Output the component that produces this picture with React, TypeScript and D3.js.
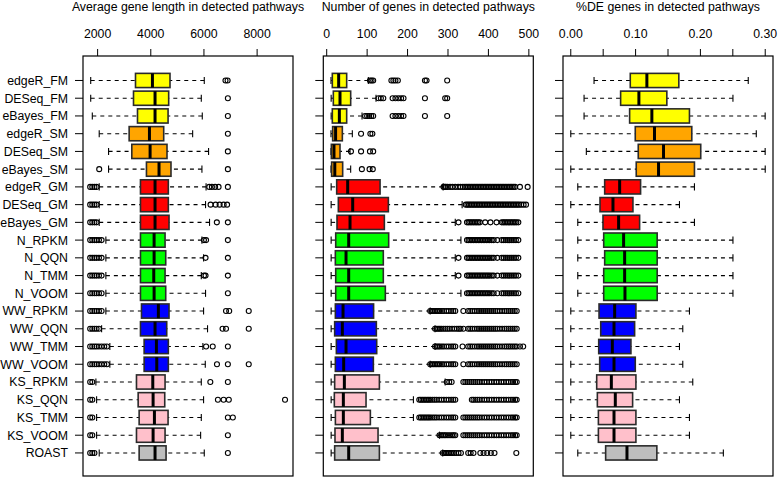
import React from "react";
import * as d3 from "d3";

const categories = [
  "edgeR_FM", "DESeq_FM", "eBayes_FM", "edgeR_SM", "DESeq_SM", "eBayes_SM",
  "edgeR_GM", "DESeq_GM", "eBayes_GM", "N_RPKM", "N_QQN", "N_TMM", "N_VOOM",
  "WW_RPKM", "WW_QQN", "WW_TMM", "WW_VOOM", "KS_RPKM", "KS_QQN", "KS_TMM",
  "KS_VOOM", "ROAST",
];

const boxFills = [
  "#FFFF00", "#FFFF00", "#FFFF00", "#FFA500", "#FFA500", "#FFA500",
  "#FF0000", "#FF0000", "#FF0000", "#00FF00", "#00FF00", "#00FF00", "#00FF00",
  "#0000FF", "#0000FF", "#0000FF", "#0000FF", "#FFC0CB", "#FFC0CB", "#FFC0CB",
  "#FFC0CB", "#BEBEBE",
];

const panelTitles = [
  "Average gene length in detected pathways",
  "Number of genes in detected pathways",
  "%DE genes in detected pathways",
];

// [lower whisker, Q1, median, Q3, upper whisker]
const lengthStats = [
  [1740, 3425, 4062, 4723, 6012],
  [1740, 3350, 4160, 4673, 5900],
  [1800, 3500, 4160, 4650, 5937],
  [2060, 3186, 3950, 4486, 5575],
  [2412, 3286, 3974, 4610, 6174],
  [2412, 3837, 4310, 4760, 5924],
  [2060, 3612, 4160, 4660, 6080],
  [2060, 3612, 4160, 4660, 6060],
  [2060, 3612, 4160, 4686, 6210],
  [2310, 3612, 4125, 4537, 5924],
  [2310, 3612, 4125, 4562, 5987],
  [2310, 3612, 4112, 4537, 5900],
  [2310, 3612, 4125, 4562, 6060],
  [2310, 3650, 4285, 4686, 5986],
  [2150, 3612, 4160, 4600, 6135],
  [2460, 3750, 4212, 4660, 5960],
  [2460, 3750, 4225, 4660, 6050],
  [1935, 3462, 4075, 4537, 5900],
  [1962, 3525, 4087, 4525, 5986],
  [1962, 3562, 4137, 4650, 5900],
  [1962, 3462, 4087, 4537, 5875],
  [2060, 3562, 4160, 4575, 6012],
];

const lengthOutliers = [
  [6810, 6890],
  [6900],
  [6900],
  [6900],
  [6900],
  [2060, 6900],
  [1720, 1800, 1880, 1960, 6200, 6300, 6420, 6550, 6900],
  [1720, 1800, 1880, 1960, 6250, 6440, 6590, 6740, 6870],
  [1720, 1800, 1880, 1960, 6485, 6900],
  [1720, 1800, 1880, 1960, 2050, 2150, 6000, 6080, 6900],
  [1720, 1800, 1880, 1960, 2050, 2150, 6060, 6900],
  [1720, 1800, 1880, 1960, 2050, 2150, 6000, 6060, 6900],
  [1720, 1800, 1880, 1960, 2050, 2150, 6900],
  [1720, 1800, 1880, 1960, 2050, 2150, 6830, 6950, 7685],
  [1720, 1800, 1880, 1960, 2050, 6700, 6830, 7685],
  [1720, 1800, 1880, 1960, 2050, 2150, 2250, 2350, 6080, 6330, 6900],
  [1720, 1800, 1880, 1960, 2050, 2150, 2250, 2350, 6490, 6900, 7685],
  [1720, 1800, 6240, 6900],
  [1720, 1800, 6525, 6740, 6935, 9050],
  [1720, 1800, 6900, 7087],
  [1720, 1800, 6900],
  [1720, 1800, 1880, 6900],
];

const countStats = [
  [10.6, 13.9, 29.6, 49.4, 103],
  [11, 16.4, 32.9, 59.3, 122],
  [11, 13.9, 31.3, 49.4, 87.4],
  [10.6, 14.7, 22, 38.7, 63.4],
  [10.6, 11.5, 18, 32.9, 57.7],
  [10.6, 12.2, 20, 39.5, 59.3],
  [11, 24.7, 51.9, 132, 288],
  [11, 28.8, 64.3, 152.5, 335],
  [11, 25.5, 57.7, 142.6, 318],
  [11, 22.3, 54.4, 153.3, 332],
  [11, 21.4, 47.8, 140, 318],
  [11, 22.3, 54.4, 140, 318],
  [11, 22.3, 54.4, 145, 332],
  [11, 21.4, 40.4, 116, 256],
  [11, 19.7, 38.7, 122.8, 268],
  [11, 23.9, 47.8, 123.7, 268],
  [11, 21.4, 42, 115.4, 256],
  [11, 19.7, 43.7, 130.3, 293],
  [11, 18.9, 41.2, 97.3, 214.5],
  [11, 21.5, 41.2, 108, 214.5],
  [11, 20.5, 38.7, 127, 279],
  [11, 19.7, 54.4, 130.3, 287],
];

const gmEdgeROut = [
  289, 292, 295, 299, 305, 311, 318, 325, 331, 337, 342, 346, 350, 354, 358, 362,
  366, 370, 374, 378, 382, 386, 390, 394, 398, 402, 406, 410, 414, 418, 422, 426,
  430, 434, 438, 442, 446, 450, 454, 458, 462, 466, 478, 497,
];
const gmDESeqOut = [
  344, 348, 352, 356, 360, 364, 368, 372, 376, 380, 384, 388, 392, 396, 400, 404,
  408, 412, 416, 420, 424, 428, 432, 436, 440, 444, 448, 452, 456, 460, 464, 468,
  472, 476, 481, 487, 493,
];
const gmEBayesOut = [
  326, 347, 351, 355, 359, 363, 367, 371, 375, 379, 392, 405, 420, 433, 437, 441,
  445, 449, 453, 457, 461, 465, 469, 474,
];
const nHighOut = [
  347, 351, 355, 359, 363, 367, 371, 375, 379, 383, 387, 391, 395, 399, 403, 408,
  413, 422, 433, 438, 443, 448, 453, 458, 463, 468, 474,
];
const wwLowOut = [256, 260, 264, 268, 272, 276, 280, 285, 290, 296, 302, 308, 313, 318];
const wwQQNLowOut = [268, 272, 276, 280, 284, 289, 294, 299, 304, 310, 316, 322, 327, 331];
const wwTMMLowOut = [268, 272, 276, 280, 285, 290, 296, 302, 308, 313, 318];
const wwHighOut = [
  338, 350, 355, 360, 366, 372, 377, 382, 387, 392, 397, 402, 407, 412, 417, 422,
  428, 434, 440, 445, 450, 455, 460, 465, 470,
];
const wwTMMHighOut = [
  336, 350, 355, 360, 366, 372, 377, 382, 387, 392, 397, 402, 407, 412, 417, 422,
  428, 434, 440, 445, 450, 455, 460, 465, 470, 478, 486,
];
const ksLowOut = [
  229, 233, 237, 241, 245, 249, 253, 257, 262, 267, 272, 278, 284, 290, 296, 302,
  308, 313, 318,
];
const ksHighOut = [
  338, 343, 348, 353, 358, 363, 368, 373, 378, 384, 390, 396, 402, 408, 414, 420,
  426, 432, 438, 444, 450, 456, 461, 466, 470,
];
const ksQQNHighOut = [
  359, 363, 368, 373, 378, 384, 390, 396, 402, 408, 414, 420, 426, 432, 438, 444,
  450, 456, 461, 466, 470,
];
const ksVoomLowOut = [279, 283, 287, 291, 295, 300, 305, 310, 314, 318];
const roastOut = [
  287, 291, 295, 299, 303, 307, 311, 315, 320, 326, 332, 350, 356, 363, 380, 388,
  397, 406, 415, 469,
];

const countOutliers = [
  [107, 111, 115, 160, 165, 170, 176, 243, 247, 298],
  [128, 134, 140, 163, 170, 177, 184, 190, 243, 293, 298],
  [95, 100, 105, 110, 115, 163, 170, 177, 184, 190, 243, 298],
  [85, 108, 113],
  [60, 85, 107, 115],
  [87, 106, 114],
  gmEdgeROut,
  gmDESeqOut,
  gmEBayesOut,
  nHighOut,
  [326, ...nHighOut],
  [326, ...nHighOut],
  nHighOut,
  [...wwLowOut, ...wwHighOut],
  [...wwQQNLowOut, ...wwHighOut],
  [...wwTMMLowOut, ...wwTMMHighOut],
  [...wwLowOut, ...wwHighOut],
  [297, 303, 309, ...ksHighOut],
  [...ksLowOut, ...ksQQNHighOut],
  [...ksLowOut, ...ksHighOut],
  [...ksVoomLowOut, ...ksHighOut],
  roastOut,
];

const deStats = [
  [0.0359, 0.0918, 0.1174, 0.1667, 0.2738],
  [0.0205, 0.0769, 0.1051, 0.1482, 0.2502],
  [0.0205, 0.0908, 0.1251, 0.1831, 0.2999],
  [0.0, 0.0995, 0.1292, 0.1867, 0.2862],
  [0.024, 0.1041, 0.1431, 0.2005, 0.2999],
  [0.0, 0.101, 0.1354, 0.1908, 0.3],
  [0.0108, 0.0523, 0.0754, 0.1077, 0.1908],
  [0.0, 0.0451, 0.0651, 0.0959, 0.1677],
  [0.0108, 0.0497, 0.0738, 0.1062, 0.1908],
  [0.0108, 0.0508, 0.0815, 0.1333, 0.2502],
  [0.0108, 0.0523, 0.0831, 0.1333, 0.2502],
  [0.0108, 0.0508, 0.0831, 0.1333, 0.2502],
  [0.0108, 0.0508, 0.0836, 0.1333, 0.2502],
  [0.0, 0.0436, 0.0677, 0.1005, 0.1831],
  [0.0, 0.0462, 0.0667, 0.0985, 0.1728],
  [0.0, 0.0431, 0.0641, 0.0928, 0.1677],
  [0.0, 0.0446, 0.0667, 0.0995, 0.1728],
  [0.0, 0.04, 0.0626, 0.1005, 0.1882],
  [0.0, 0.041, 0.0687, 0.0954, 0.1677],
  [0.0, 0.0426, 0.0667, 0.1005, 0.1831],
  [0.0, 0.0426, 0.0667, 0.1005, 0.1831],
  [0.0108, 0.0538, 0.0867, 0.1328, 0.2354],
];
const deOutliers: number[][] = categories.map(() => []);

const lengthTicks = [2000, 4000, 6000, 8000];
const countTicks = [0, 100, 200, 300, 400, 500];
const deTicks = [0, 0.05, 0.1, 0.15, 0.2, 0.25, 0.3];
const deTickLabels = ["0.00", "", "0.10", "", "0.20", "", "0.30"];

const lengthLimits = [1450, 9350];
const countLimits = [-8.4, 511];
const deLimits = [-0.012, 0.312];

const FONT = "'Liberation Sans', Arial, Helvetica, sans-serif";
const TOP = 56;
const BOTTOM = 476;
const PW = 210;

type PanelProps = {
  left: number;
  title: string;
  limits: number[];
  ticks: number[];
  tickLabels: string[];
  stats: number[][];
  outliers: number[][];
  showNames: boolean;
};

function Panel({ left, title, limits, ticks, tickLabels, stats, outliers, showNames }: PanelProps) {
  const x = d3.scaleLinear().domain(limits).range([left, left + PW]);
  const y = d3.scaleLinear().domain([-0.38, 23.3]).range([TOP, BOTTOM]);
  const unit = y(1) - y(0);
  const halfBox = 0.4 * unit;
  const halfStaple = 0.2 * unit;
  return (
    <g>
      <text x={left + PW / 2} y={11} textAnchor="middle" fontSize={12.3} fontFamily={FONT} fill="#000">
        {title}
      </text>
      {ticks.map((t, i) => (
        <g key={"t" + i}>
          <line x1={x(t)} x2={x(t)} y1={TOP - 7} y2={TOP} stroke="#000" strokeWidth={1} />
          {tickLabels[i] !== "" && (
            <text x={x(t)} y={38} textAnchor="middle" fontSize={12.3} fontFamily={FONT} fill="#000">
              {tickLabels[i]}
            </text>
          )}
        </g>
      ))}
      {categories.map((c, i) => {
        const yy = y(i + 1);
        return (
          <g key={"y" + i}>
            <line x1={left - 8} x2={left} y1={yy} y2={yy} stroke="#000" strokeWidth={1} />
            {showNames && (
              <text x={left - 15} y={yy} dy="0.36em" textAnchor="end" fontSize={12.3} fontFamily={FONT} fill="#000">
                {c}
              </text>
            )}
          </g>
        );
      })}
      {stats.map((s, i) => {
        const yy = y(i + 1);
        const [lo, q1, med, q3, hi] = s;
        return (
          <g key={"b" + i}>
            <line x1={x(lo)} x2={x(q1)} y1={yy} y2={yy} stroke="#000" strokeWidth={1.1} strokeDasharray="4,4" />
            <line x1={x(hi)} x2={x(q3)} y1={yy} y2={yy} stroke="#000" strokeWidth={1.1} strokeDasharray="4,4" />
            <line x1={x(lo)} x2={x(lo)} y1={yy - halfStaple} y2={yy + halfStaple} stroke="#000" strokeWidth={1.1} />
            <line x1={x(hi)} x2={x(hi)} y1={yy - halfStaple} y2={yy + halfStaple} stroke="#000" strokeWidth={1.1} />
            <rect
              x={x(q1)}
              y={yy - halfBox}
              width={x(q3) - x(q1)}
              height={2 * halfBox}
              fill={boxFills[i]}
              stroke="#2a2a2a"
              strokeWidth={1.6}
            />
            <line x1={x(med)} x2={x(med)} y1={yy - halfBox} y2={yy + halfBox} stroke="#000" strokeWidth={3} />
            {outliers[i].map((v, j) => (
              <circle key={j} cx={x(v)} cy={yy} r={2.5} fill="none" stroke="#000" strokeWidth={1.1} />
            ))}
          </g>
        );
      })}
      <rect x={left} y={TOP} width={PW} height={BOTTOM - TOP} fill="none" stroke="#000" strokeWidth={1.2} />
    </g>
  );
}

export default function App() {
  return (
    <svg
      width={778}
      height={478}
      style={{ position: "absolute", left: 0, top: 0, background: "#fff" }}
    >
      <rect x={0} y={0} width={778} height={478} fill="#fff" />
      <Panel
        left={83}
        title={panelTitles[0]}
        limits={lengthLimits}
        ticks={lengthTicks}
        tickLabels={lengthTicks.map((t) => String(t))}
        stats={lengthStats}
        outliers={lengthOutliers}
        showNames={true}
      />
      <Panel
        left={323.3}
        title={panelTitles[1]}
        limits={countLimits}
        ticks={countTicks}
        tickLabels={countTicks.map((t) => String(t))}
        stats={countStats}
        outliers={countOutliers}
        showNames={false}
      />
      <Panel
        left={563}
        title={panelTitles[2]}
        limits={deLimits}
        ticks={deTicks}
        tickLabels={deTickLabels}
        stats={deStats}
        outliers={deOutliers}
        showNames={false}
      />
    </svg>
  );
}
